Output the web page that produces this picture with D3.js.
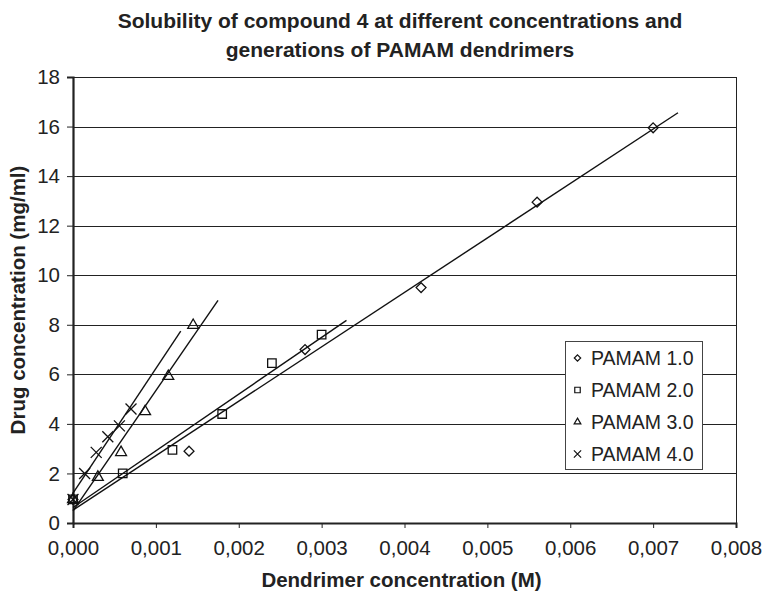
<!DOCTYPE html>
<html lang="en">
<head>
<meta charset="UTF-8">
<title>Solubility of compound 4</title>
<script src="https://cdn.jsdelivr.net/npm/d3@7"></script>
<style>
  body { margin: 0; background: #fff; }
  svg { display: block; font-family: "Liberation Sans", Arial, sans-serif; }
</style>
</head>
<body>
<svg id="chart" width="762" height="591"></svg>
<script>
// data
const seriesNames = ["PAMAM 1.0", "PAMAM 2.0", "PAMAM 3.0", "PAMAM 4.0"]
const pamam1X = [0, 0.0014, 0.0028, 0.0042, 0.0056, 0.0070]
const pamam1Y = [0.95, 2.9, 7.0, 9.5, 12.95, 15.95]
const pamam2X = [0, 0.0006, 0.0012, 0.0018, 0.0024, 0.0030]
const pamam2Y = [0.95, 2.0, 2.95, 4.4, 6.45, 7.6]
const pamam3X = [0, 0.0003, 0.00058, 0.00087, 0.00115, 0.00145]
const pamam3Y = [0.95, 1.85, 2.85, 4.5, 5.92, 7.98]
const pamam4X = [0, 0.00014, 0.00028, 0.00042, 0.00056, 0.0007]
const pamam4Y = [0.95, 2.0, 2.85, 3.48, 3.92, 4.6]
// linear trendline forecast (forward) per series
const trendForward = [0.0003, 0.0003, 0.0003, 0.0006]

const xTicks = [0, 0.001, 0.002, 0.003, 0.004, 0.005, 0.006, 0.007, 0.008]
const xTickLabels = ["0,000", "0,001", "0,002", "0,003", "0,004", "0,005", "0,006", "0,007", "0,008"]
const yTicks = [0, 2, 4, 6, 8, 10, 12, 14, 16, 18]

const titleLines = ["Solubility of compound 4 at different concentrations and", "generations of PAMAM dendrimers"]
const xTitle = "Dendrimer concentration (M)"
const yTitle = "Drug concentration (mg/ml)"

const series = [
  {name: seriesNames[0], xs: pamam1X, ys: pamam1Y, fwd: trendForward[0], sym: d3.symbolDiamond2, size: 62, lsize: 26},
  {name: seriesNames[1], xs: pamam2X, ys: pamam2Y, fwd: trendForward[1], sym: d3.symbolSquare2, size: 92, lsize: 38},
  {name: seriesNames[2], xs: pamam3X, ys: pamam3Y, fwd: trendForward[2], sym: d3.symbolTriangle2, size: 85, lsize: 32},
  {name: seriesNames[3], xs: pamam4X, ys: pamam4Y, fwd: trendForward[3], sym: d3.symbolTimes, size: 80, lsize: 36}
]

const svg = d3.select("#chart")
const plotL = 73, plotR = 736, plotT = 77, plotB = 523

const x = d3.scaleLinear().domain([0, 0.008]).range([plotL, plotR])
const y = d3.scaleLinear().domain([0, 18]).range([plotB, plotT])

// gridlines
svg.append("g")
  .selectAll("line")
  .data(yTicks.filter(d => d > 0))
  .enter().append("line")
  .attr("x1", plotL).attr("x2", plotR)
  .attr("y1", d => Math.round(y(d)) + 0.5).attr("y2", d => Math.round(y(d)) + 0.5)
  .attr("stroke", "#222").attr("stroke-width", 1)

// plot border (right side)
svg.append("line")
  .attr("x1", plotR + 0.5).attr("x2", plotR + 0.5)
  .attr("y1", plotT).attr("y2", plotB)
  .attr("stroke", "#222")

// axes
const xAxis = d3.axisBottom(x).tickValues(xTicks).tickFormat((d, i) => xTickLabels[i]).tickSize(5).tickPadding(12)
const yAxis = d3.axisLeft(y).tickValues(yTicks).tickSize(6).tickPadding(7)

const gx = svg.append("g").attr("transform", `translate(0,${plotB})`).call(xAxis)
const gy = svg.append("g").attr("transform", `translate(${plotL},0)`).call(yAxis)
gx.select(".domain").attr("stroke", "#222").attr("stroke-width", 2)
gy.select(".domain").attr("stroke", "#222").attr("stroke-width", 2.2)
svg.selectAll(".tick line").attr("stroke", "#222")
svg.selectAll(".tick text").attr("font-size", 20.5).attr("fill", "#222")
  .attr("font-family", "'Liberation Sans', Arial, sans-serif")

// trendlines (least squares)
function fit(xs, ys) {
  const mx = d3.mean(xs), my = d3.mean(ys)
  const sxy = d3.sum(xs, (v, i) => (v - mx) * (ys[i] - my))
  const sxx = d3.sum(xs, v => (v - mx) * (v - mx))
  const b = sxy / sxx
  return {b: b, a: my - b * mx}
}

const line = d3.line().x(d => x(d[0])).y(d => y(d[1]))

series.forEach(s => {
  const f = fit(s.xs, s.ys)
  const x0 = d3.min(s.xs), x1 = d3.max(s.xs) + s.fwd
  svg.append("path")
    .datum([[x0, f.a + f.b * x0], [x1, f.a + f.b * x1]])
    .attr("d", line)
    .attr("fill", "none")
    .attr("stroke", "#111")
    .attr("stroke-width", 1.4)
})

// markers
series.forEach(s => {
  svg.append("g")
    .selectAll("path")
    .data(s.xs.map((v, i) => [v, s.ys[i]]))
    .enter().append("path")
    .attr("transform", d => `translate(${x(d[0])},${y(d[1])})`)
    .attr("d", d3.symbol().type(s.sym).size(s.size))
    .attr("fill", "none")
    .attr("stroke", "#111")
    .attr("stroke-width", 1.3)
})

// legend
const legend = svg.append("g").attr("transform", "translate(565,341)")
legend.append("rect")
  .attr("x", 0.5).attr("y", 0.5)
  .attr("width", 137).attr("height", 128)
  .attr("fill", "#fff").attr("stroke", "#444")

const rowY = d3.scalePoint().domain(seriesNames).range([17, 113])
series.forEach(s => {
  const ry = rowY(s.name)
  legend.append("path")
    .attr("transform", `translate(12.5,${ry})`)
    .attr("d", d3.symbol().type(s.sym).size(s.lsize))
    .attr("fill", "none").attr("stroke", "#111").attr("stroke-width", 1.2)
  legend.append("text")
    .attr("x", 26).attr("y", ry)
    .attr("dy", "0.36em")
    .attr("font-size", 19.5)
    .attr("fill", "#222")
    .text(s.name)
})

// titles
svg.selectAll(".title")
  .data(titleLines)
  .enter().append("text")
  .attr("class", "title")
  .attr("x", 400)
  .attr("y", (d, i) => 28 + i * 29)
  .attr("text-anchor", "middle")
  .attr("font-weight", "bold")
  .attr("font-size", 21)
  .attr("fill", "#222")
  .text(d => d)

svg.append("text")
  .attr("x", (plotL + plotR) / 2 - 3)
  .attr("y", 587)
  .attr("text-anchor", "middle")
  .attr("font-weight", "bold")
  .attr("font-size", 20.5)
  .attr("fill", "#222")
  .text(xTitle)

svg.append("text")
  .attr("transform", `translate(25,${(plotT + plotB) / 2}) rotate(-90)`)
  .attr("text-anchor", "middle")
  .attr("font-weight", "bold")
  .attr("font-size", 20.5)
  .attr("fill", "#222")
  .text(yTitle)
</script>
</body>
</html>
